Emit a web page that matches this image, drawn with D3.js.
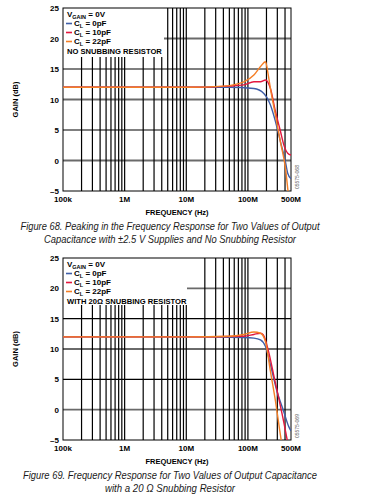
<!DOCTYPE html>
<html><head><meta charset="utf-8">
<script src="https://cdn.jsdelivr.net/npm/d3@7"></script>
<style>
html,body{margin:0;padding:0;background:#fff;}
svg{display:block;}
</style></head>
<body>
<svg id="c" width="383" height="495"></svg>
<script>
// ---------- DATA ----------
const xTickValues = [1e5, 1e6, 1e7, 1e8, 5e8];
const xTickLabels = ["100k", "1M", "10M", "100M", "500M"];
const yTickValues = [25, 20, 15, 10, 5, 0, -5];
const yTickLabels = ["25", "20", "15", "10", "5", "0", "\u20135"];
const seriesNames = ["C_L = 0pF", "C_L = 10pF", "C_L = 22pF"];

// Figure 68 (no snubbing resistor)
const f68_0pF_freq = [1e5, 1e6, 1e7, 5e7, 1.25e8, 1.81e8, 2.32e8, 2.8e8, 3.37e8, 4.06e8, 4.42e8, 5e8];
const f68_0pF_gain = [12.0, 12.0, 12.0, 12.0, 11.8, 11.0, 9.1, 6.4, 3.1, -0.2, -2.1, -3.0];
const f68_10pF_freq = [1e5, 1e6, 1e7, 5e7, 8.6e7, 1.25e8, 1.6e8, 1.93e8, 2.32e8, 2.8e8, 3.37e8, 3.81e8, 4.42e8, 5e8];
const f68_10pF_gain = [12.0, 12.0, 12.0, 12.2, 12.4, 12.9, 12.9, 13.2, 11.8, 8.0, 4.8, 2.6, 1.2, 0.9];
const f68_22pF_freq = [1e5, 1e6, 1e7, 4e7, 8.6e7, 1.25e8, 1.6e8, 1.93e8, 2.1e8, 2.32e8, 2.8e8, 3.37e8, 4.06e8, 4.5e8];
const f68_22pF_gain = [12.0, 12.0, 12.0, 12.2, 12.9, 14.0, 15.4, 16.2, 14.5, 11.8, 7.4, 3.0, -1.2, -5.3];

// Figure 69 (20 ohm snubbing resistor)
const f69_0pF_freq = [1e5, 1e6, 1e7, 8.6e7, 1.25e8, 1.6e8, 1.93e8, 2.32e8, 2.97e8, 3.81e8, 4.6e8, 5e8];
const f69_0pF_gain = [12.0, 12.0, 12.0, 11.9, 11.8, 11.5, 10.4, 7.4, 3.0, -0.3, -2.8, -3.5];
const f69_10pF_freq = [1e5, 1e6, 1e7, 8.6e7, 1.25e8, 1.6e8, 1.78e8, 2.16e8, 2.62e8, 3.16e8, 3.81e8, 4.4e8];
const f69_10pF_gain = [12.0, 12.0, 12.0, 12.1, 12.4, 12.6, 12.3, 9.6, 5.7, 1.9, -2.0, -5.3];
const f69_22pF_freq = [1e5, 1e6, 1e7, 5e7, 8.6e7, 1.25e8, 1.6e8, 1.93e8, 2.32e8, 2.8e8, 3.37e8, 3.5e8];
const f69_22pF_gain = [12.0, 12.0, 12.0, 12.1, 12.4, 12.8, 12.6, 11.2, 6.3, 1.4, -4.2, -5.3];

const colors = ["#3f5ea8", "#e3173e", "#f57f26"];

// ---------- DRAW ----------
const svg = d3.select("#c");
const font = "'Liberation Sans', Arial, sans-serif";

function zip(f, g) { return f.map((v, i) => ({ f: v, g: g[i] })); }

function drawChart(cfg) {
  const x = d3.scaleLog().domain([1e5, 5e8]).range([63, 291]);
  const y = d3.scaleLinear().domain([-5, 25]).range([cfg.bottom, cfg.top]);
  const g = svg.append("g");

  // horizontal grid
  [20, 15, 10, 5, 0].forEach(v => {
    const gray = (v % 10 === 0);
    g.append("line").attr("x1", x(1e5)).attr("x2", x(5e8))
      .attr("y1", y(v)).attr("y2", y(v))
      .attr("stroke", gray ? "#6a6a6a" : "#000")
      .attr("stroke-width", gray ? 1.8 : 1.1);
  });
  // vertical grid
  const vlines = [];
  for (let d = 5; d <= 8; d++) for (let k = 1; k <= 9; k++) {
    const v = k * Math.pow(10, d);
    if (v > 1e5 && v < 5e8) vlines.push(v);
  }
  g.selectAll(null).data(vlines).enter().append("line")
    .attr("x1", d => x(d)).attr("x2", d => x(d))
    .attr("y1", y(25)).attr("y2", y(-5))
    .attr("stroke", "#000").attr("stroke-width", 1.2);

  // legend box (occludes grid)
  g.append("rect").attr("x", x(1e5)).attr("y", y(25))
    .attr("width", cfg.legendW).attr("height", cfg.legendH).attr("fill", "#fff");

  // border
  g.append("rect").attr("x", x(1e5)).attr("y", y(25))
    .attr("width", x(5e8) - x(1e5)).attr("height", y(-5) - y(25))
    .attr("fill", "none").attr("stroke", "#000").attr("stroke-width", 1);

  // curves
  const clipId = "clip" + cfg.id;
  svg.append("clipPath").attr("id", clipId).append("rect")
    .attr("x", x(1e5)).attr("y", y(25)).attr("width", x(5e8) - x(1e5)).attr("height", y(-5) - y(25));
  const line = d3.line().x(d => x(d.f)).y(d => y(d.g)).curve(d3.curveMonotoneX);
  cfg.series.forEach((s, i) => {
    g.append("path").attr("d", line(s)).attr("fill", "none")
      .attr("stroke", colors[i]).attr("stroke-width", 1.4)
      .attr("clip-path", `url(#${clipId})`);
  });

  // y tick labels
  g.selectAll(null).data(yTickValues).enter().append("text")
    .attr("x", 59).attr("y", d => y(d) + 3)
    .attr("text-anchor", "end").attr("font-family", font).attr("font-weight", "bold")
    .attr("font-size", 8).text((d, i) => yTickLabels[i]);
  // x tick labels
  g.selectAll(null).data(xTickValues).enter().append("text")
    .attr("x", d => x(d)).attr("y", y(-5) + 11)
    .attr("text-anchor", "middle").attr("font-family", font).attr("font-weight", "bold")
    .attr("font-size", 8).text((d, i) => xTickLabels[i]);
  // axis titles
  g.append("text").attr("transform", `translate(18,${(y(25) + y(-5)) / 2}) rotate(-90)`)
    .attr("text-anchor", "middle").attr("font-family", font).attr("font-weight", "bold")
    .attr("font-size", 7.5).text("GAIN (dB)");
  g.append("text").attr("x", 177).attr("y", y(-5) + 24)
    .attr("text-anchor", "middle").attr("font-family", font).attr("font-weight", "bold")
    .attr("font-size", 7.5).text("FREQUENCY (Hz)");

  // legend text
  const lx = 67, ly0 = y(25) + 9, dy = 9;
  const t0 = g.append("text").attr("x", lx).attr("y", ly0).attr("font-family", font)
    .attr("font-weight", "bold").attr("font-size", 8);
  t0.append("tspan").text("V");
  t0.append("tspan").attr("font-size", 5.5).attr("dy", 2).text("GAIN");
  t0.append("tspan").attr("dy", -2).text(" = 0V");
  seriesNames.forEach((n, i) => {
    const yy = ly0 + dy * (i + 1);
    g.append("line").attr("x1", lx - 1).attr("x2", lx + 5).attr("y1", yy - 2.5).attr("y2", yy - 2.5)
      .attr("stroke", colors[i]).attr("stroke-width", 1.6);
    const t = g.append("text").attr("x", lx + 7).attr("y", yy).attr("font-family", font)
      .attr("font-weight", "bold").attr("font-size", 8);
    t.append("tspan").text("C");
    t.append("tspan").attr("font-size", 5.5).attr("dy", 2).text("L");
    t.append("tspan").attr("dy", -2).text(n.replace("C_L", ""));
  });
  g.append("text").attr("x", lx).attr("y", ly0 + dy * 4 + 1).attr("font-family", font)
    .attr("font-weight", "bold").attr("font-size", 7.6).text(cfg.note);

  // watermark
  g.append("text").attr("transform", `translate(299,${y(-5) - 2}) rotate(-90)`)
    .attr("font-family", font).attr("font-size", 5).attr("fill", "#555").text(cfg.mark);

  // caption
  cfg.caption.forEach((c, i) => {
    g.append("text").attr("x", 170).attr("y", y(-5) + 39 + i * 12.5)
      .attr("text-anchor", "middle").attr("font-family", font).attr("font-style", "italic")
      .attr("font-size", 10.2).attr("fill", "#1a1a1a")
      .attr("textLength", c.w).attr("lengthAdjust", "spacingAndGlyphs").text(c.t);
  });
}

drawChart({
  id: 68, top: 8, bottom: 191, legendW: 101, legendH: 49,
  note: "NO SNUBBING RESISTOR", mark: "05575-068",
  series: [zip(f68_0pF_freq, f68_0pF_gain), zip(f68_10pF_freq, f68_10pF_gain), zip(f68_22pF_freq, f68_22pF_gain)],
  caption: [
    { t: "Figure 68. Peaking in the Frequency Response for Two Values of Output", w: 299 },
    { t: "Capacitance with \u00b12.5 V Supplies and No Snubbing Resistor", w: 252 }
  ]
});
drawChart({
  id: 69, top: 258, bottom: 440, legendW: 124, legendH: 47,
  note: "WITH 20\u03a9 SNUBBING RESISTOR", mark: "05575-069",
  series: [zip(f69_0pF_freq, f69_0pF_gain), zip(f69_10pF_freq, f69_10pF_gain), zip(f69_22pF_freq, f69_22pF_gain)],
  caption: [
    { t: "Figure 69. Frequency Response for Two Values of Output Capacitance", w: 294 },
    { t: "with a 20 \u03a9 Snubbing Resistor", w: 130 }
  ]
});
</script>
</body></html>
